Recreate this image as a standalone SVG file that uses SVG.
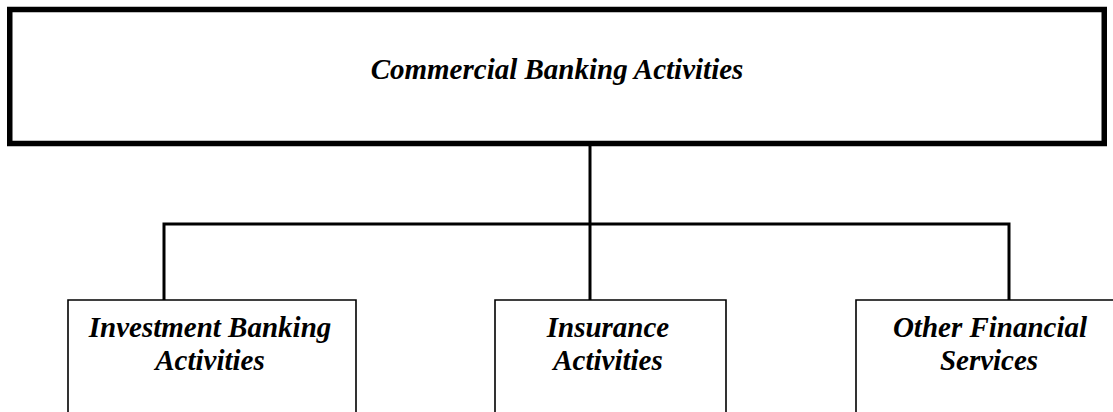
<svg xmlns="http://www.w3.org/2000/svg" width="1113" height="412" viewBox="0 0 1113 412">
<style>
.top{fill:#fff;stroke:#000;stroke-width:5.5}
.box{fill:#fff;stroke:#000;stroke-width:1.6}
.conn{fill:none;stroke:#000;stroke-width:3}
.t{font-family:"Liberation Serif","Times New Roman",serif;font-weight:bold;font-style:italic;fill:#000;text-anchor:middle;font-size:29px}
</style>
<g id="connectors">
<line class="conn" x1="590" y1="146" x2="590" y2="300"/>
<polyline class="conn" points="164,300 164,224 1009,224 1009,300"/>
</g>
<g id="commercial">
<rect class="top" x="9.75" y="9.5" width="1094.5" height="134"/>
<text class="t" x="557" y="79">Commercial Banking Activities</text>
</g>
<g id="investment">
<path class="box" d="M68,413 V300 H356 V413"/>
<text class="t" x="210" y="337">Investment Banking</text>
<text class="t" x="210" y="370">Activities</text>
</g>
<g id="insurance">
<path class="box" d="M495,413 V300 H726 V413"/>
<text class="t" x="608" y="337">Insurance</text>
<text class="t" x="608" y="370">Activities</text>
</g>
<g id="other">
<path class="box" d="M856,413 V300 H1120 V413"/>
<text class="t" x="990" y="337">Other Financial</text>
<text class="t" x="989" y="370">Services</text>
</g>
</svg>
